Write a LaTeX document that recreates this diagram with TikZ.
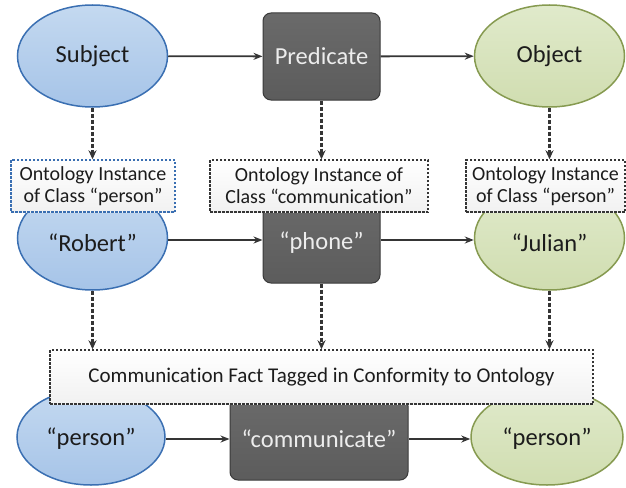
\documentclass[tikz,border=0pt]{standalone}
\usepackage{fontspec}
\setmainfont{Carlito}[Ligatures={NoCommon}]
\usetikzlibrary{arrows.meta,shapes.geometric}

\definecolor{bluefill}{HTML}{A6C4E8}
\definecolor{bluetop}{HTML}{C4D9F0}
\definecolor{blueline}{HTML}{3A6FB2}
\definecolor{greenfill}{HTML}{D0DDB0}
\definecolor{greentop}{HTML}{E0EACB}
\definecolor{greenline}{HTML}{869A50}
\definecolor{darkfill}{HTML}{5C5C5C}
\definecolor{darktop}{HTML}{6A6A6A}
\definecolor{darkline}{HTML}{3A3A3A}
\definecolor{lighttext}{HTML}{EDEDED}
\definecolor{inktext}{HTML}{1C1C1C}
\definecolor{linkcol}{HTML}{353535}
\definecolor{boxtop}{HTML}{FFFFFF}
\definecolor{boxbottom}{HTML}{F1F1F1}

\tikzset{
  x=1pt, y=-1pt,
  bigfont/.style={font=\fontsize{24.5}{28}\selectfont},
  concept/.style={ellipse, minimum width=150pt, minimum height=102pt, inner sep=0pt,
    line width=1.5pt, text=inktext, bigfont},
  bluenode/.style={concept, draw=blueline, top color=bluetop, bottom color=bluefill},
  greennode/.style={concept, draw=greenline, top color=greentop, bottom color=greenfill},
  relnode/.style={rectangle, rounded corners=8pt, draw=darkline, line width=1pt,
    top color=darktop, bottom color=darkfill, text=lighttext, inner sep=0pt, bigfont},
  tagbox/.style={rectangle, draw=linkcol, dash pattern=on 2.5pt off 1.5pt,
    line width=1.4pt, top color=boxtop, bottom color=boxbottom, inner sep=0pt, align=center,
    font=\fontsize{20}{22}\selectfont, text=inktext},
  link/.style={-{Stealth[length=9pt,width=7pt]}, line width=1.8pt, draw=linkcol},
  dlink/.style={-{Stealth[length=9pt,width=8pt]}, line width=2.3pt, draw=linkcol,
    dash pattern=on 4pt off 2pt}
}

\begin{document}
\begin{tikzpicture}
\useasboundingbox (0,0) rectangle (626,487);

% ---- top row: roles
\node[bluenode] (subj) at (92.5,56) {Subject};
\node[relnode, minimum width=117pt, minimum height=87pt] (pred) at (321.5,56.5) {Predicate};
\node[greennode] (obj) at (549.5,56) {Object};

% ---- middle row: instances
\node[bluenode, minimum height=104pt] (rob) at (92.5,238) {};
\node[relnode, minimum width=117pt, minimum height=86pt] (phone) at (321.5,240) {};
\node[greennode, minimum height=104pt] (jul) at (549.5,238) {};

% ---- bottom row: tagged fact
\node[bluenode, minimum width=148pt, minimum height=96pt] (per1) at (91,437) {};
\node[relnode, minimum width=178pt, minimum height=82pt] (comm) at (319,439) {};
\node[greennode, minimum width=152pt, minimum height=96pt] (per2) at (547,437) {};

% ---- ontology annotation boxes
\node[tagbox, draw=blueline, minimum width=164pt, minimum height=52pt] (onto1) at (93,186)
  {Ontology Instance\\of Class “person”};
\node[tagbox, minimum width=218pt, minimum height=52pt] (onto2) at (319,186)
  {Ontology Instance of\\Class “communication”};
\node[tagbox, minimum width=159pt, minimum height=52pt] (onto3) at (545.5,186)
  {Ontology Instance\\of Class “person”};
\node[tagbox, minimum width=543pt, minimum height=54pt, font=\fontsize{21}{24}\selectfont]
  (fact) at (321.5,377) {Communication Fact Tagged in Conformity to Ontology};

% labels of the partly covered shapes
\node[text=inktext, bigfont] at (92.5,243) {“Robert”};
\node[text=lighttext, bigfont] at (321.5,243) {“phone”};
\node[text=inktext, bigfont] at (549.5,243) {“Julian”};
\node[text=inktext, bigfont] at (91,439) {“person”};
\node[text=lighttext, bigfont] at (319,439) {“communicate”};
\node[text=inktext, bigfont] at (547,439) {“person”};

% ---- solid relation arrows
\draw[link] (subj) -- (pred);
\draw[link] (pred) -- (obj);
\draw[link] (rob.east |- phone) -- (phone);
\draw[link] (phone) -- (jul.west |- phone);
\draw[link] (per1.east |- comm) -- (comm);
\draw[link] (comm) -- (per2.west |- comm);

% ---- dashed instance arrows
\draw[dlink] (subj.south) -- (onto1.north -| subj.south);
\draw[dlink] (pred.south) -- (onto2.north -| pred.south);
\draw[dlink] (obj.south) -- (onto3.north -| obj.south);
\draw[dlink] (rob.south) -- (fact.north -| rob.south);
\draw[dlink] (phone.south) -- (fact.north -| phone.south);
\draw[dlink] (jul.south) -- (fact.north -| jul.south);
\end{tikzpicture}
\end{document}
